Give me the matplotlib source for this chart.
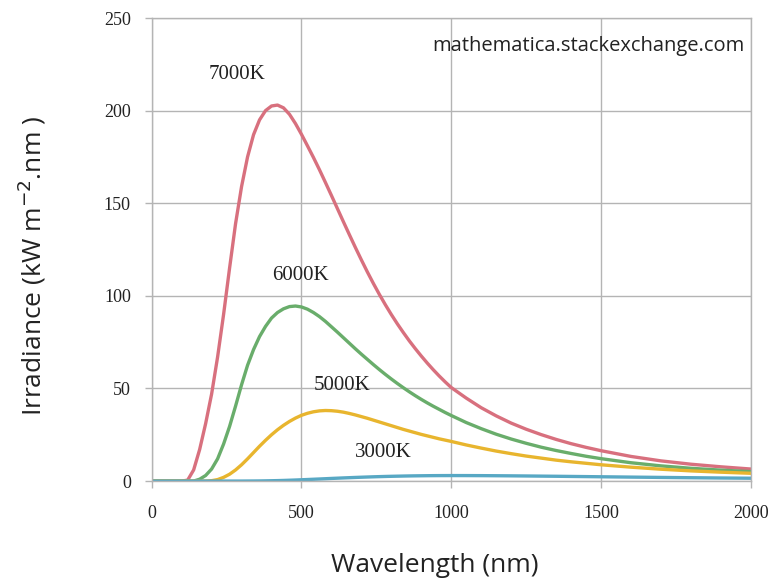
import matplotlib
matplotlib.use("Agg")
import matplotlib.pyplot as plt

# wavelength (nm) shared by all curves
wavelength = list(range(0, 1001, 20)) + list(range(1050, 1501, 50)) + list(range(1600, 2001, 100))

# irradiance values (kW m-2 nm-1)
irr_7000 = [0, 0, 0, 0, 0, 0,
            0.5, 6, 17, 31, 47, 67, 90, 115, 139, 159,
            175, 187, 195, 200, 202.5, 203, 201.5, 198, 193, 187.2,
            181, 174.7, 168.1, 161.2, 154.2, 147.1, 140, 133, 126.1, 119.4,
            112.9, 106.7, 100.8, 95.2, 89.9, 84.9, 80.2, 75.7, 71.5, 67.5,
            63.7, 60.1, 56.7, 53.5, 50.5,
            44.8, 39.6, 35.2, 31.3, 28, 25.1, 22.5, 20.2, 18.2, 16.4,
            13.3, 10.9, 9.1, 7.7, 6.5]
irr_6000 = [0, 0, 0, 0, 0, 0, 0, 0,
            1, 3, 6.5, 12, 20, 29.5, 40.5, 52, 62.5, 71,
            78, 83.5, 88, 91, 93, 94.2, 94.5, 94, 92.8, 91,
            88.8, 86.2, 83.3, 80.4, 77.4, 74.4, 71.4, 68.5, 65.7, 62.9,
            60.2, 57.6, 55.1, 52.7, 50.4, 48.2, 46.1, 44.1, 42.2, 40.4,
            38.7, 37, 35.4,
            31.6, 28.3, 25.3, 22.7, 20.4, 18.3, 16.5, 14.9, 13.4, 12.1,
            9.9, 8.2, 6.9, 5.9, 5.1]
irr_5000 = [0, 0, 0, 0, 0, 0, 0, 0, 0, 0,
            0.2, 0.8, 2, 3.7, 6, 8.8, 12, 15.4, 18.8, 22,
            25, 27.7, 30.1, 32.2, 34, 35.5, 36.6, 37.4, 37.9, 38.1,
            38, 37.7, 37.2, 36.5, 35.7, 34.8, 33.9, 32.9, 31.9, 30.9,
            29.9, 28.9, 27.9, 27, 26.1, 25.2, 24.4, 23.6, 22.8, 22.1,
            21.4,
            19.5, 17.8, 16.2, 14.8, 13.5, 12.4, 11.3, 10.4, 9.6, 8.8,
            7.5, 6.4, 5.5, 4.8, 4.2]
irr_3000 = [0, 0, 0, 0, 0, 0, 0, 0, 0, 0, 0, 0, 0, 0, 0, 0,
            0.02, 0.04, 0.07, 0.12, 0.18, 0.25, 0.34, 0.45, 0.57, 0.7,
            0.84, 0.98, 1.12, 1.27, 1.42, 1.56, 1.7, 1.83, 1.96, 2.08,
            2.19, 2.3, 2.4, 2.49, 2.57, 2.64, 2.71, 2.77, 2.82, 2.86,
            2.9, 2.93, 2.95, 2.96, 2.97,
            2.96, 2.93, 2.88, 2.82, 2.75, 2.67, 2.59, 2.5, 2.41, 2.32,
            2.14, 1.97, 1.81, 1.66, 1.53]

curve_labels = ["7000K", "6000K", "5000K", "3000K"]
label_x = [286, 495, 634, 772]
label_y = [219.5, 111, 51.6, 15.4]

fig = plt.figure(figsize=(7.74, 5.81), dpi=100)
ax = fig.add_axes([0.196, 0.172, 0.774, 0.797])

ax.plot(wavelength, irr_7000, color="#d8707e", lw=2.4, solid_capstyle="round", solid_joinstyle="round")
ax.plot(wavelength, irr_6000, color="#69ad6b", lw=2.4, solid_capstyle="round", solid_joinstyle="round")
ax.plot(wavelength, irr_5000, color="#e8b52e", lw=2.4, solid_capstyle="round", solid_joinstyle="round")
ax.plot(wavelength, irr_3000, color="#58a8c4", lw=2.4, solid_capstyle="round", solid_joinstyle="round")

for lab, lx, ly in zip(curve_labels, label_x, label_y):
    ax.text(lx, ly, lab, ha="center", va="center", fontsize=15,
            family="Liberation Serif", color="#222222")

ax.set_xlim(0, 2000)
ax.set_ylim(0, 250)
ax.set_xticks([0, 500, 1000, 1500, 2000])
ax.set_yticks([0, 50, 100, 150, 200, 250])
ax.grid(True, color="#b4b4b4", lw=1)
for s in ax.spines.values():
    s.set_color("#b4b4b4")
    s.set_linewidth(1)
ax.tick_params(axis="both", colors="#b4b4b4", length=5, width=1,
               labelcolor="#222222", labelsize=13)
ax.tick_params(axis="x", pad=12)
ax.tick_params(axis="y", pad=10)
for t in ax.get_xticklabels() + ax.get_yticklabels():
    t.set_family("Liberation Serif")

ax.text(0.99, 0.94, "mathematica.stackexchange.com", transform=ax.transAxes,
        ha="right", va="center", fontsize=14.5, family="Open Sans", color="#222222")

fig.text(0.562, 0.027, "Wavelength (nm)", ha="center", va="center",
         fontsize=19, family="Open Sans", color="#222222")
fig.text(0.041, 0.542, "Irradiance (kW m$^{-2}$.nm )", ha="center", va="center",
         rotation=90, fontsize=19, family="Open Sans", color="#222222")

fig.savefig("out.png", dpi=100)
